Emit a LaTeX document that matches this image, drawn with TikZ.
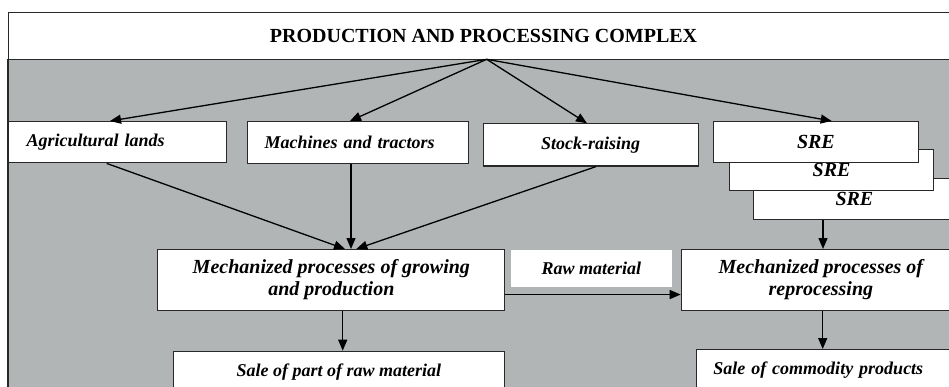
\documentclass[tikz,border=0pt]{standalone}
\usepackage{fontspec}
\setmainfont{Liberation Serif}
\usetikzlibrary{arrows.meta}
\definecolor{panelgray}{RGB}{178,181,182}
\definecolor{edge}{RGB}{40,40,40}
\tikzset{
  boxstyle/.style={draw=edge, fill=white, line width=1.1pt, inner ysep=0pt, anchor=north west,
    font=\fontsize{18}{21.6}\selectfont\bfseries\itshape},
  bigtext/.style={font=\fontsize{20}{22}\selectfont\bfseries\itshape},
  arr/.style={draw=black, line width=1.3pt, -{Triangle[length=11pt,width=9pt]}},
}
\begin{document}
\begin{tikzpicture}[x=1pt,y=-1pt]
\useasboundingbox (0,0) rectangle (949,387);
\clip (0,0) rectangle (949,387);
\fill[white] (0,0) rectangle (949,387);
% gray panel
\draw[draw=edge, fill=panelgray, line width=1.1pt] (8,59.3) rectangle (958,420);
% header
\node[draw=edge, fill=white, line width=1.1pt, anchor=north west, minimum width=950pt, minimum height=47.6pt, inner sep=0pt,
  font=\fontsize{20}{24}\selectfont\bfseries] (hdr) at (8,11.7) {PRODUCTION AND PROCESSING COMPLEX};
\coordinate (apex) at (486.7,59.3);
% top row
\node[boxstyle, minimum width=217.7pt, minimum height=41.3pt, inner xsep=18pt, text width=181.7pt, align=left] (agri) at (8,121) {Agricultural lands};
\node[boxstyle, minimum width=221.6pt, minimum height=41.7pt, inner xsep=17.3pt, text width=187pt, align=left] (mach) at (246.7,121) {Machines and tractors};
\node[boxstyle, minimum width=215.2pt, minimum height=42.2pt, inner xsep=0pt, align=center] (stock) at (482.5,123.3) {Stock-raising};
\node[boxstyle, bigtext, minimum width=202.3pt, minimum height=41.6pt, inner xsep=0pt, align=center] (sre3) at (752.7,177.7) {SRE};
\node[boxstyle, bigtext, minimum width=204.6pt, minimum height=41.3pt, inner xsep=0pt, align=center] (sre2) at (728.7,148.7) {SRE};
\node[boxstyle, bigtext, minimum width=204.7pt, minimum height=41.3pt, inner xsep=0pt, align=center] (sre1) at (713,121) {SRE};
% middle row
\node[boxstyle, bigtext, minimum width=347pt, minimum height=61pt, inner xsep=0pt, align=center] (mech1) at (157.3,249) {Mechanized processes of growing\\and production};
\node[boxstyle, draw=none, minimum width=160.3pt, minimum height=37.7pt, inner xsep=0pt, align=center] (raw) at (510.7,249) {Raw material};
\node[boxstyle, bigtext, minimum width=279.3pt, minimum height=61pt, inner xsep=0pt, align=center] (mech2) at (680.7,249) {Mechanized processes of\\reprocessing};
% bottom row
\node[boxstyle, minimum width=331.3pt, minimum height=42pt, inner xsep=0pt, align=center] (sale1) at (172.7,350.7) {Sale of part of raw material};
\node[boxstyle, minimum width=264pt, minimum height=42pt, inner xsep=16.7pt, text width=230.6pt, align=left] (sale2) at (696,349) {Sale of commodity products};
% connectors
\draw[arr] (apex) -- ([xshift=102pt]agri.north west);
\draw[arr] (apex) -- ([xshift=103.3pt]mach.north west);
\draw[arr] (apex) -- ([xshift=104.5pt]stock.north west);
\draw[arr] (apex) -- ([xshift=118.7pt]sre1.north west);
\draw[arr] ([xshift=98.7pt]agri.south west) -- ([xshift=187.7pt]mech1.north west);
\draw[arr] ([xshift=104.3pt]mach.south west) -- ([xshift=193.7pt]mech1.north west);
\draw[arr] ([xshift=113.5pt]stock.south west) -- ([xshift=199pt]mech1.north west);
\draw[arr] ([xshift=185.4pt]mech1.south west) -- ([xshift=170pt]sale1.north west);
\draw[arr] ([yshift=-14.5pt]mech1.east) -- ([yshift=-14.5pt]mech2.west);
\draw[arr] ([xshift=70.3pt]sre3.south west) -- ([xshift=142.3pt]mech2.north west);
\draw[arr] ([xshift=142pt]mech2.south west) -- ([xshift=126.7pt]sale2.north west);
\end{tikzpicture}
\end{document}
